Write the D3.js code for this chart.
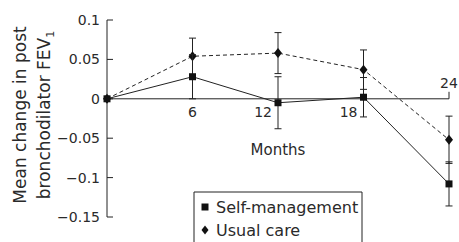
<!DOCTYPE html>
<html>
<head>
<meta charset="utf-8">
<script src="https://cdn.jsdelivr.net/npm/d3@7"></script>
<style>
  body { margin: 0; background: #fff; }
  text { font-family: "DejaVu Sans", sans-serif; fill: #2a2a2a; }
</style>
</head>
<body>
<div id="chart"></div>
<script>
// Data
const months = [0, 6, 12, 18, 24];
const selfMgmt = [0, 0.028, -0.005, 0.002, -0.108];
const selfMgmtErr = [0, 0.028, 0.033, 0.025, 0.028];
const usualCare = [0, 0.054, 0.058, 0.037, -0.052];
const usualCareErr = [0, 0.023, 0.026, 0.025, 0.030];
const yTicks = [0.1, 0.05, 0, -0.05, -0.1, -0.15];
const yTickLabels = ['0.1', '0.05', '0', '\u22120.05', '\u22120.1', '\u22120.15'];

const width = 459, height = 242;

const svg = d3.select('#chart').append('svg')
    .attr('width', width)
    .attr('height', height);

const x = d3.scaleLinear().domain([0, 24]).range([107, 449]);
const y = d3.scaleLinear().domain([-0.15, 0.1]).range([217, 20]);

const ink = '#222';

// Y axis
const yAxis = svg.append('g');
yAxis.append('line')
    .attr('x1', x(0)).attr('x2', x(0))
    .attr('y1', y(0.1)).attr('y2', y(-0.15))
    .attr('stroke', ink);
yAxis.selectAll('.ytick')
    .data(yTicks)
    .enter()
    .append('line')
    .attr('x1', x(0)).attr('x2', x(0) + 6)
    .attr('y1', d => y(d)).attr('y2', d => y(d))
    .attr('stroke', ink);
yAxis.selectAll('.ylab')
    .data(yTicks)
    .enter()
    .append('text')
    .attr('x', 100)
    .attr('y', d => y(d) + 5)
    .attr('text-anchor', 'end')
    .attr('font-size', '14px')
    .text((d, i) => yTickLabels[i]);

// X axis along zero
const xAxis = svg.append('g');
xAxis.append('line')
    .attr('x1', x(0)).attr('x2', x(24))
    .attr('y1', y(0)).attr('y2', y(0))
    .attr('stroke', ink);
xAxis.append('line')
    .attr('x1', x(24)).attr('x2', x(24))
    .attr('y1', y(0)).attr('y2', y(0) - 7)
    .attr('stroke', ink);
xAxis.append('text')
    .attr('x', x(6)).attr('y', y(0) + 18)
    .attr('text-anchor', 'middle').attr('font-size', '14px').text('6');
xAxis.append('text')
    .attr('x', x(12) - 6).attr('y', y(0) + 18)
    .attr('text-anchor', 'end').attr('font-size', '14px').text('12');
xAxis.append('text')
    .attr('x', x(18) - 6).attr('y', y(0) + 18)
    .attr('text-anchor', 'end').attr('font-size', '14px').text('18');
xAxis.append('text')
    .attr('x', x(24)).attr('y', y(0) - 11)
    .attr('text-anchor', 'middle').attr('font-size', '14px').text('24');
xAxis.append('text')
    .attr('x', 278).attr('y', 155)
    .attr('text-anchor', 'middle').attr('font-size', '15px').text('Months');

// Y axis title
const yTitle = svg.append('text')
    .attr('transform', 'translate(0,115) rotate(-90)')
    .attr('text-anchor', 'middle')
    .attr('font-size', '17px');
yTitle.append('tspan').attr('x', 0).attr('y', 26).text('Mean change in post');
const line2 = yTitle.append('tspan').attr('x', 0).attr('y', 50);
line2.append('tspan').text('bronchodilator FEV');
line2.append('tspan').attr('dy', 4).attr('font-size', '11px').text('1');

// Series
function drawSeries(vals, errs, dash, shape) {
    const pts = months.map((m, i) => ({ m, v: vals[i], e: errs[i] }));
    const g = svg.append('g');
    g.append('path')
        .datum(pts)
        .attr('fill', 'none')
        .attr('stroke', ink)
        .attr('stroke-width', 1)
        .attr('stroke-dasharray', dash)
        .attr('d', d3.line().x(d => x(d.m)).y(d => y(d.v)));
    const eb = g.selectAll('.err')
        .data(pts.filter(d => d.e > 0))
        .enter()
        .append('g');
    eb.append('line')
        .attr('x1', d => x(d.m)).attr('x2', d => x(d.m))
        .attr('y1', d => y(d.v + d.e)).attr('y2', d => y(d.v - d.e))
        .attr('stroke', ink);
    [1, -1].forEach(s => {
        eb.append('line')
            .attr('x1', d => x(d.m) - 3.5).attr('x2', d => x(d.m) + 3.5)
            .attr('y1', d => y(d.v + s * d.e)).attr('y2', d => y(d.v + s * d.e))
            .attr('stroke', ink);
    });
    g.selectAll('.mk')
        .data(pts)
        .enter()
        .append('path')
        .attr('transform', d => `translate(${x(d.m)},${y(d.v)})`)
        .attr('d', shape)
        .attr('fill', '#111');
}

const squareShape = 'M-3.5,-3.5H3.5V3.5H-3.5Z';
const diamondShape = 'M0,-5L4,0L0,5L-4,0Z';

drawSeries(usualCare, usualCareErr, '4,3', diamondShape);
drawSeries(selfMgmt, selfMgmtErr, null, squareShape);

// Legend
const legend = svg.append('g');
legend.append('path')
    .attr('d', 'M194,245V192H362V245')
    .attr('fill', '#fff')
    .attr('stroke', ink);
legend.append('path')
    .attr('transform', 'translate(205,207)')
    .attr('d', 'M-3.5,-3.5H3.5V3.5H-3.5Z')
    .attr('fill', '#111');
legend.append('text')
    .attr('x', 216).attr('y', 213)
    .attr('font-size', '16px').text('Self-management');
legend.append('path')
    .attr('transform', 'translate(205,230)')
    .attr('d', 'M0,-4.5L3.5,0L0,4.5L-3.5,0Z')
    .attr('fill', '#111');
legend.append('text')
    .attr('x', 216).attr('y', 236)
    .attr('font-size', '16px').text('Usual care');
</script>
</body>
</html>
